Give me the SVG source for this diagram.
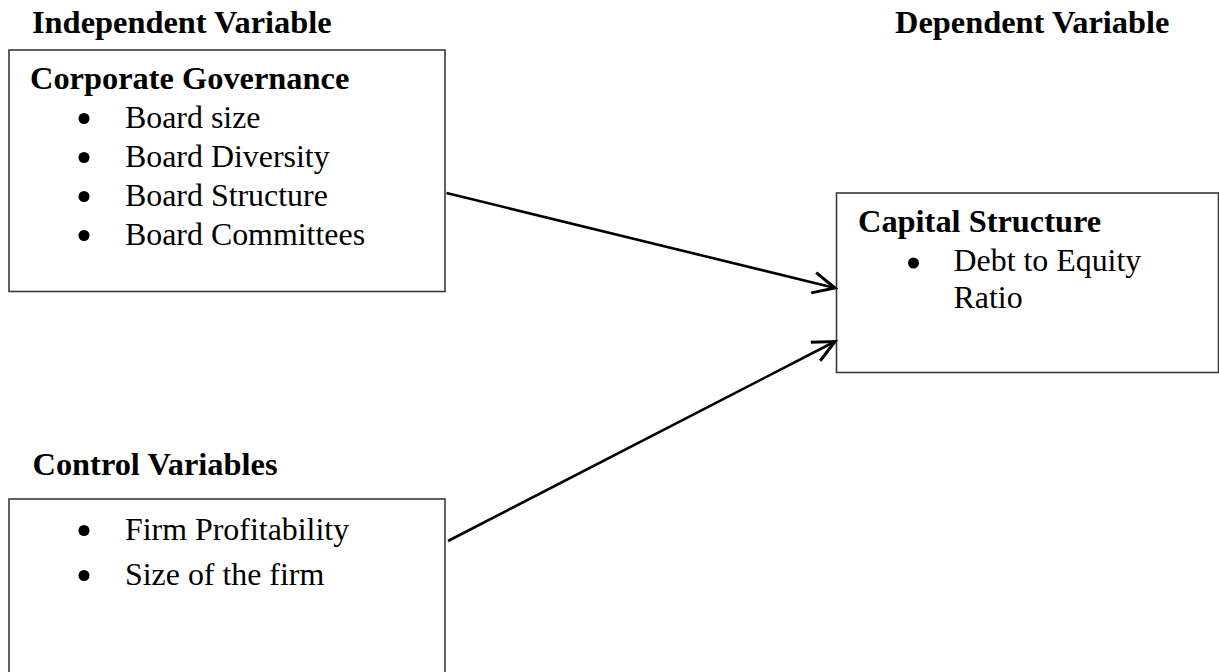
<svg xmlns="http://www.w3.org/2000/svg" width="1219" height="672" viewBox="0 0 1219 672">
<style>
.box{fill:#fff;stroke:#3a3a3a;stroke-width:1.6}
.h{font-family:"Liberation Serif","Times New Roman",serif;font-weight:bold;font-size:32.4px;fill:#000}
.t{font-family:"Liberation Serif","Times New Roman",serif;font-size:31.9px;fill:#000}
.b{fill:#000}
.c{stroke:#000;stroke-width:2.6;fill:none}
</style>
<defs>
<marker id="arr" markerUnits="userSpaceOnUse" markerWidth="30" markerHeight="30" viewBox="-22 -12 26 24" refX="0" refY="0" orient="auto">
<path d="M-19,-9 L0,0 L-19,9" fill="none" stroke="#000" stroke-width="2.6" stroke-linejoin="miter"/>
</marker>
</defs>
<rect width="1219" height="672" fill="#fff"/>
<g id="label-independent"><text class="h" x="32" y="33">Independent Variable</text></g>
<g id="label-dependent"><text class="h" x="895" y="33">Dependent Variable</text></g>
<g id="label-control"><text class="h" x="32.5" y="475">Control Variables</text></g>
<g id="node-corporate-governance">
<rect class="box" x="9" y="50" width="436" height="241.5"/>
<text class="h" x="30" y="89">Corporate Governance</text>
<circle class="b" cx="84" cy="118.5" r="5.5"/><text class="t" x="125" y="128">Board size</text>
<circle class="b" cx="84" cy="157.5" r="5.5"/><text class="t" x="125" y="167">Board Diversity</text>
<circle class="b" cx="84" cy="196.5" r="5.5"/><text class="t" x="125" y="206">Board Structure</text>
<circle class="b" cx="84" cy="235.5" r="5.5"/><text class="t" x="125" y="245">Board Committees</text>
</g>
<g id="node-capital-structure">
<rect class="box" x="836.5" y="193" width="382" height="179.5"/>
<text class="h" x="858" y="231.5">Capital Structure</text>
<circle class="b" cx="913.5" cy="263" r="5.5"/><text class="t" x="953.5" y="270.5">Debt to Equity</text>
<text class="t" x="953.5" y="308">Ratio</text>
</g>
<g id="node-control-variables">
<rect class="box" x="9" y="499" width="436" height="190"/>
<circle class="b" cx="84" cy="530.5" r="5.5"/><text class="t" x="125" y="540">Firm Profitability</text>
<circle class="b" cx="84" cy="575.5" r="5.5"/><text class="t" x="125" y="585">Size of the firm</text>
</g>
<g id="connectors">
<line class="c" x1="446.5" y1="193" x2="835" y2="288" marker-end="url(#arr)"/>
<line class="c" x1="448" y1="541" x2="835" y2="341.5" marker-end="url(#arr)"/>
</g>
</svg>
